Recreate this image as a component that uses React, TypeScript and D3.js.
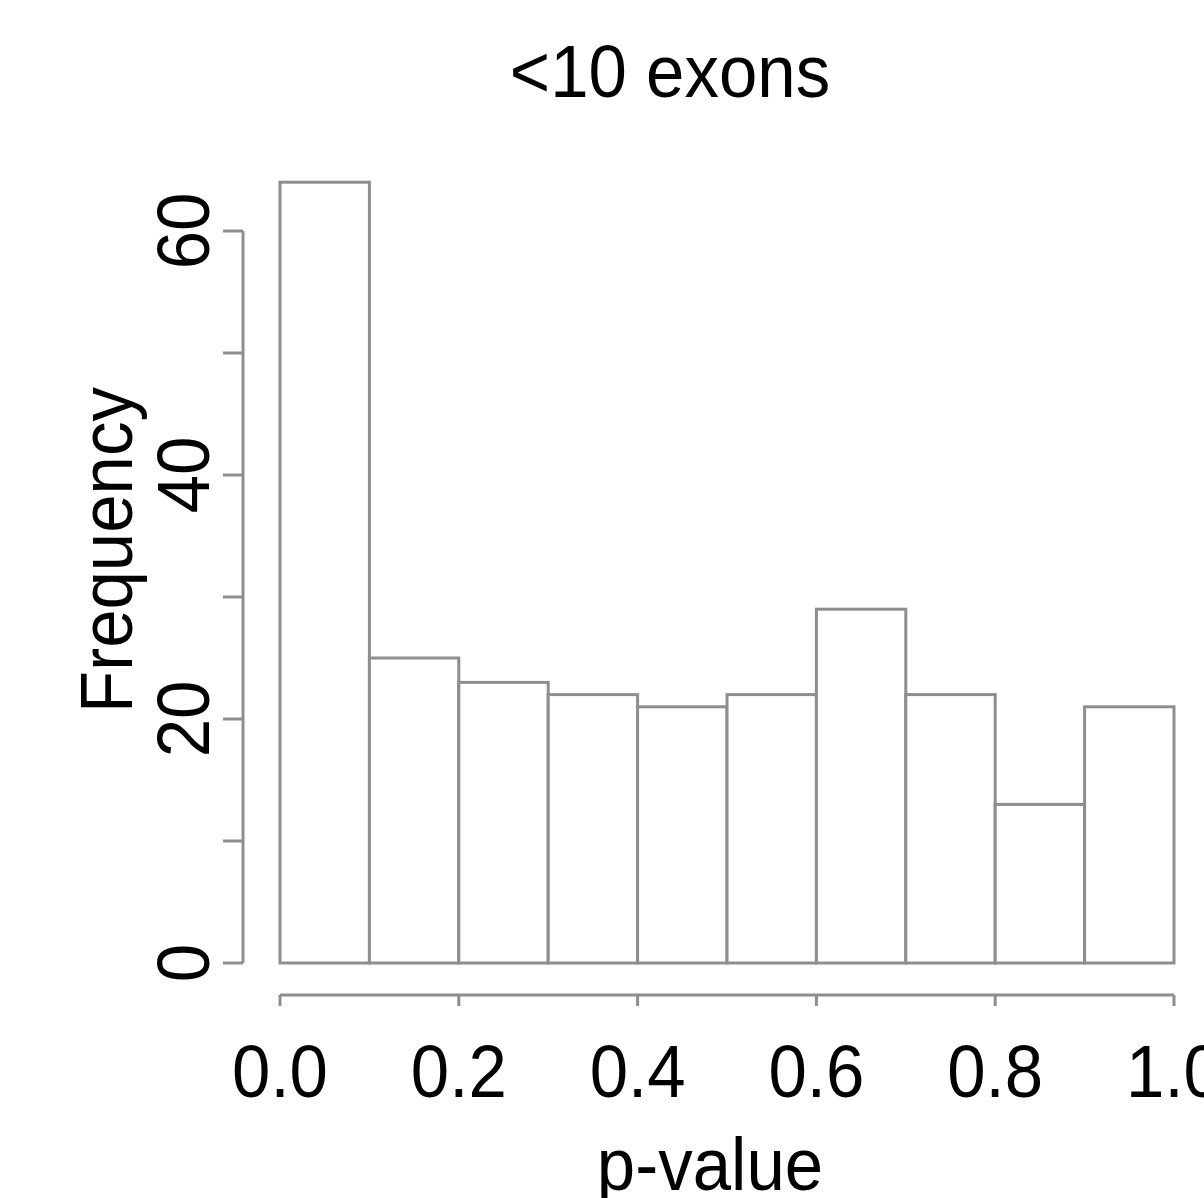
import React, { useEffect, useRef } from 'react'
import * as d3 from 'd3'

const TITLE = '<10 exons'
const X_LABEL = 'p-value'
const Y_LABEL = 'Frequency'
const BREAKS = [0.0, 0.1, 0.2, 0.3, 0.4, 0.5, 0.6, 0.7, 0.8, 0.9, 1.0]
const COUNTS = [64, 25, 23, 22, 21, 22, 29, 22, 13, 21]
const X_TICKS = [0.0, 0.2, 0.4, 0.6, 0.8, 1.0]
const Y_TICKS = [0, 10, 20, 30, 40, 50, 60]
const Y_LABELED = [0, 20, 40, 60]

const width = 1204
const height = 1198
const plot = { left: 280, right: 1174, top: 231, bottom: 963 }
const gray = '#8e8e8e'
const font = '"Liberation Sans", Arial, sans-serif'
const squeeze = 0.92

export default function App() {
  const ref = useRef<SVGSVGElement>(null)

  useEffect(() => {
    const svg = d3.select(ref.current)
    svg.selectAll('*').remove()

    const x = d3.scaleLinear().domain([0, 1]).range([plot.left, plot.right])
    const y = d3.scaleLinear().domain([0, 60]).range([plot.bottom, plot.top])

    const bins = COUNTS.map((c, i) => ({ x0: BREAKS[i], x1: BREAKS[i + 1], n: c }))

    svg.append('g')
      .selectAll('rect')
      .data(bins)
      .enter()
      .append('rect')
      .attr('x', d => x(d.x0))
      .attr('width', d => x(d.x1) - x(d.x0))
      .attr('y', d => y(d.n))
      .attr('height', d => y(0) - y(d.n))
      .attr('fill', 'white')
      .attr('stroke', gray)
      .attr('stroke-width', 3)

    // x axis, drawn below the bars like R does
    const xAxis = svg.append('g').attr('transform', 'translate(0, 995)')
    xAxis.append('line')
      .attr('x1', x(0)).attr('x2', x(1))
      .attr('stroke', gray).attr('stroke-width', 3)
    xAxis.selectAll('.tick')
      .data(X_TICKS)
      .enter()
      .append('line')
      .attr('x1', d => x(d)).attr('x2', d => x(d))
      .attr('y1', 0).attr('y2', 11)
      .attr('stroke', gray).attr('stroke-width', 3)
    xAxis.selectAll('.lab')
      .data(X_TICKS)
      .enter()
      .append('text')
      .attr('transform', d => `translate(${x(d)}, 102) scale(${squeeze}, 1)`)
      .attr('text-anchor', 'middle')
      .attr('font-family', font)
      .attr('font-size', 75)
      .text(d => d3.format('.1f')(d))

    // y axis
    const yAxis = svg.append('g').attr('transform', 'translate(243, 0)')
    yAxis.append('line')
      .attr('y1', y(0)).attr('y2', y(60))
      .attr('stroke', gray).attr('stroke-width', 3)
    yAxis.selectAll('.tick')
      .data(Y_TICKS)
      .enter()
      .append('line')
      .attr('y1', d => y(d)).attr('y2', d => y(d))
      .attr('x1', 0).attr('x2', -20)
      .attr('stroke', gray).attr('stroke-width', 3)
    yAxis.selectAll('.lab')
      .data(Y_LABELED)
      .enter()
      .append('text')
      .attr('transform', d => `translate(-34, ${y(d)}) rotate(-90) scale(${squeeze}, 1)`)
      .attr('text-anchor', 'middle')
      .attr('font-family', font)
      .attr('font-size', 75)
      .text(d => d)

    svg.append('text')
      .attr('transform', `translate(670, 97) scale(${squeeze}, 1)`)
      .attr('text-anchor', 'middle')
      .attr('font-family', font)
      .attr('font-size', 75)
      .text(TITLE)

    svg.append('text')
      .attr('transform', `translate(710, 1190) scale(${squeeze}, 1)`)
      .attr('text-anchor', 'middle')
      .attr('font-family', font)
      .attr('font-size', 75)
      .text(X_LABEL)

    svg.append('text')
      .attr('transform', `translate(132, 550) rotate(-90) scale(${squeeze}, 1)`)
      .attr('text-anchor', 'middle')
      .attr('font-family', font)
      .attr('font-size', 75)
      .text(Y_LABEL)
  }, [])

  return (
    <svg ref={ref} width={width} height={height}
      style={{ position: 'absolute', left: 0, top: 0, background: 'white' }} />
  )
}
